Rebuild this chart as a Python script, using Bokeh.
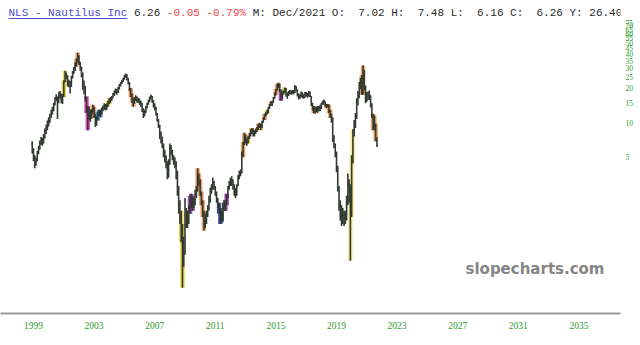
from bokeh.plotting import figure
from bokeh.models import FixedTicker, ColumnDataSource, Range1d
from bokeh.embed import file_html
from bokeh.resources import INLINE
from bokeh.core.properties import value

# ---------------- data (monthly OHLC, Mar 1999 .. Dec 2021) ----------------
first_month = "1999-03"
first_open = 6.5

closes = [
    5.6, 4.9, 4.3, 4.7, 5.4, 6.0, 6.6, 7.1, 6.8, 7.6,                     # 1999 Mar-Dec
    8.5, 9.1, 9.8, 10.4, 11.6, 12.4, 13.1, 14.6, 16.0, 16.6, 15.1, 18.0,  # 2000
    17.4, 15.6, 17.0, 23.0, 26.5, 25.2, 21.6, 22.6, 21.0, 25.0, 27.6, 30.2,  # 2001
    33.0, 35.5, 38.0, 33.5, 30.5, 27.0, 22.0, 20.5, 16.2, 13.4, 11.6, 12.4,  # 2002
    11.2, 12.6, 13.4, 11.6, 10.0, 10.8, 11.9, 12.4, 12.0, 13.0, 13.5, 14.1,  # 2003
    13.6, 14.0, 15.0, 15.5, 16.0, 16.6, 17.6, 18.4, 19.2, 18.6, 20.0, 21.2,  # 2004
    22.2, 23.0, 24.2, 25.4, 26.0, 24.0, 22.4, 19.6, 17.6, 15.8, 15.0, 16.2,  # 2005
    16.6, 15.6, 16.0, 15.0, 14.6, 13.0, 11.8, 12.6, 13.6, 14.6, 15.6, 16.6,  # 2006
    17.0, 15.6, 14.4, 13.4, 12.0, 10.6, 9.4, 8.0, 7.0, 6.4, 5.4, 5.0,        # 2007
    4.3, 3.5, 4.4, 6.0, 5.6, 5.0, 4.7, 4.3, 3.6, 2.6, 1.9, 1.5,              # 2008
    1.1, 0.62, 0.75, 1.3, 1.5, 1.4, 1.7, 2.0, 2.1, 1.9, 2.0, 2.3,            # 2009
    2.6, 3.4, 3.0, 2.4, 2.0, 1.6, 1.3, 1.4, 1.6, 1.8, 2.1, 2.5,              # 2010
    2.8, 3.0, 2.7, 2.4, 2.1, 1.9, 1.7, 1.5, 1.45, 1.8, 1.9, 1.9,             # 2011
    2.3, 2.7, 2.9, 3.0, 3.1, 2.8, 2.5, 2.4, 2.8, 3.3, 3.6, 3.7,              # 2012
    5.2, 6.5, 7.6, 7.0, 6.8, 7.4, 7.9, 8.3, 8.6, 8.0, 8.2, 8.5,              # 2013
    8.9, 9.4, 9.6, 9.2, 10.2, 10.9, 11.6, 12.0, 12.5, 13.4, 14.2, 15.0,      # 2014
    15.2, 16.4, 17.6, 19.4, 21.0, 21.6, 19.0, 17.2, 18.0, 18.6, 19.8, 17.8,  # 2015
    17.8, 18.6, 18.8, 18.2, 18.9, 18.6, 20.2, 19.4, 17.6, 16.8, 17.2, 18.4,  # 2016
    17.0, 16.8, 18.2, 17.6, 17.2, 18.6, 17.0, 14.6, 13.4, 13.2, 12.9, 13.4,  # 2017
    13.0, 13.6, 13.5, 14.6, 15.2, 15.4, 14.2, 14.0, 14.2, 12.6, 11.6, 10.9,  # 2018
    7.2, 6.4, 5.4, 4.0, 2.7, 1.85, 1.75, 1.35, 1.55, 1.45, 1.5, 2.0,         # 2019
    2.9, 2.6, 1.6, 4.6, 8.4, 9.4, 11.0, 15.8, 17.2, 21.0, 22.6, 18.2,        # 2020
    24.0, 20.0, 15.6, 17.2, 17.4, 16.9, 14.4, 11.6, 9.3, 9.4, 7.02, 6.26,    # 2021
]

highs = [
    6.9, 6.0, 5.2, 5.0, 5.7, 6.3, 7.0, 7.5, 7.4, 8.0,
    8.9, 9.6, 10.5, 11.2, 12.0, 13.0, 13.8, 15.0, 16.8, 17.8, 17.0, 18.6,
    19.0, 18.0, 17.8, 23.6, 28.6, 27.5, 26.0, 23.8, 23.2, 25.8, 28.4, 31.0,
    33.8, 36.5, 41.0, 39.0, 34.0, 31.0, 27.5, 23.5, 21.0, 17.0, 14.0, 13.8,
    13.0, 13.2, 14.4, 13.8, 12.0, 11.4, 12.5, 13.0, 13.0, 13.6, 14.2, 14.8,
    14.6, 14.8, 15.6, 16.4, 16.8, 17.2, 18.2, 19.2, 20.0, 19.8, 20.6, 21.8,
    22.8, 23.8, 24.8, 26.2, 27.0, 26.6, 24.6, 22.8, 20.2, 18.0, 16.4, 16.8,
    17.4, 17.0, 16.6, 16.2, 15.6, 15.0, 13.4, 13.0, 14.0, 15.0, 16.0, 17.0,
    17.6, 17.2, 15.8, 14.8, 13.8, 12.2, 10.8, 9.6, 8.4, 7.6, 6.6, 5.8,
    5.2, 4.6, 4.8, 6.6, 6.4, 5.8, 5.2, 5.0, 4.6, 3.8, 2.8, 2.1,
    1.7, 1.3, 1.0, 2.2, 1.8, 1.7, 1.9, 2.3, 2.4, 2.3, 2.2, 2.6,
    2.8, 4.0, 3.6, 3.2, 2.5, 2.1, 1.7, 1.6, 1.7, 1.9, 2.3, 2.7,
    2.9, 3.3, 3.1, 2.8, 2.5, 2.2, 2.0, 1.8, 1.7, 2.0, 2.1, 2.1,
    2.4, 2.8, 3.1, 3.3, 3.4, 3.2, 2.9, 2.7, 2.9, 3.5, 3.8, 3.9,
    5.6, 6.8, 8.2, 7.9, 7.4, 7.7, 8.2, 8.8, 9.0, 8.9, 8.6, 8.9,
    9.2, 9.8, 10.0, 9.8, 10.4, 11.2, 12.0, 12.4, 13.0, 13.8, 14.6, 15.4,
    15.6, 16.8, 18.4, 19.8, 21.8, 22.4, 22.0, 19.6, 18.8, 19.2, 20.4, 20.2,
    18.4, 19.0, 19.4, 19.2, 19.4, 19.4, 21.4, 21.0, 19.6, 18.0, 17.8, 18.8,
    18.4, 17.8, 18.6, 18.6, 18.2, 19.0, 18.8, 17.2, 15.0, 14.0, 13.8, 13.8,
    14.0, 14.0, 14.4, 15.0, 15.6, 16.0, 15.4, 14.6, 14.6, 14.4, 13.0, 12.0,
    11.2, 7.8, 6.6, 5.6, 4.2, 2.8, 2.1, 1.9, 1.8, 1.7, 1.7, 2.3,
    3.6, 3.2, 2.9, 5.2, 8.8, 10.6, 12.2, 16.4, 19.0, 22.8, 24.6, 26.0,
    31.7, 29.0, 21.2, 18.6, 18.8, 19.2, 17.4, 14.8, 12.0, 11.6, 9.8, 7.48,
]

lows = [
    5.4, 4.6, 4.0, 4.2, 4.6, 5.3, 5.8, 6.4, 6.3, 6.6,
    7.3, 8.0, 8.6, 9.3, 10.0, 11.0, 11.8, 12.6, 14.2, 15.4, 10.8, 14.8,
    16.2, 14.8, 14.6, 16.8, 22.6, 24.0, 20.8, 20.5, 18.0, 20.6, 24.4, 26.8,
    28.4, 31.0, 33.5, 32.0, 28.5, 25.0, 19.5, 17.8, 15.4, 12.2, 8.6, 10.6,
    10.2, 10.8, 12.0, 11.0, 9.2, 9.4, 10.5, 11.4, 11.2, 11.8, 12.6, 13.0,
    12.8, 13.0, 13.8, 14.6, 15.0, 15.6, 16.4, 17.2, 18.0, 17.6, 18.2, 19.6,
    20.8, 21.8, 22.8, 23.8, 24.8, 23.4, 21.6, 19.0, 16.8, 15.0, 13.8, 14.6,
    15.6, 15.0, 15.0, 14.4, 13.8, 12.4, 11.0, 11.4, 12.2, 13.4, 14.4, 15.2,
    16.0, 15.0, 13.6, 12.8, 11.6, 10.2, 9.0, 7.2, 6.6, 6.0, 5.0, 4.5,
    4.0, 3.2, 3.3, 4.3, 5.2, 4.7, 4.3, 4.0, 3.2, 2.3, 1.6, 1.3,
    0.9, 0.36, 0.55, 0.7, 1.2, 1.2, 1.3, 1.6, 1.8, 1.7, 1.8, 1.9,
    2.2, 2.5, 2.8, 2.3, 1.9, 1.5, 1.14, 1.2, 1.3, 1.5, 1.7, 2.0,
    2.4, 2.6, 2.6, 2.3, 2.0, 1.8, 1.6, 1.3, 1.35, 1.4, 1.7, 1.7,
    1.9, 2.2, 2.6, 2.8, 2.8, 2.6, 2.3, 2.2, 2.3, 2.8, 3.2, 3.4,
    3.6, 5.0, 6.4, 6.6, 6.3, 6.6, 7.2, 7.6, 8.0, 7.6, 7.6, 8.0,
    8.3, 8.6, 9.0, 8.6, 9.0, 10.0, 10.6, 11.4, 11.8, 12.2, 13.2, 14.0,
    14.0, 15.0, 16.2, 17.4, 19.2, 20.2, 18.6, 15.6, 16.4, 17.6, 18.4, 17.0,
    16.2, 17.2, 17.8, 17.6, 17.8, 17.8, 18.2, 18.8, 17.0, 16.0, 16.2, 16.8,
    16.4, 16.2, 16.6, 17.0, 16.6, 17.0, 16.8, 14.0, 12.8, 12.2, 12.0, 12.4,
    12.2, 12.6, 12.6, 13.2, 14.4, 14.4, 13.8, 13.4, 13.6, 12.2, 11.0, 10.0,
    6.8, 6.0, 5.0, 3.7, 2.5, 1.7, 1.4, 1.25, 1.3, 1.25, 1.3, 1.4,
    1.9, 2.0, 0.62, 1.5, 4.4, 7.6, 9.0, 10.8, 14.2, 16.4, 19.8, 17.6,
    17.6, 19.2, 14.8, 15.2, 15.8, 15.8, 13.6, 11.0, 8.6, 8.6, 6.9, 6.16,
]

# highlighted (coloured) bars
hl_months = ["2001-04", "2001-05", "2002-02", "2002-03", "2002-10", "2002-11",
             "2003-03", "2003-04", "2003-07", "2003-08", "2003-09", "2004-03", "2004-04",
             "2005-09", "2005-10", "2005-11", "2009-01", "2009-02",
             "2009-08", "2009-09", "2009-10",
             "2010-02", "2010-03", "2010-04", "2010-05", "2010-06", "2010-07",
             "2011-07", "2011-08", "2011-09", "2011-12", "2012-01",
             "2013-02", "2013-03", "2013-04", "2013-06", "2013-09",
             "2014-02", "2014-04", "2014-07", "2014-09", "2014-12",
             "2015-04", "2015-05", "2015-06", "2015-08", "2015-10", "2015-11",
             "2017-10", "2017-11", "2017-12",
             "2018-08", "2018-09", "2018-10", "2018-11",
             "2020-03", "2020-04", "2020-05", "2020-12", "2021-01",
             "2021-09", "2021-10", "2021-11"]
hl_kinds = ["yellow", "yellow", "orange", "orange", "pink", "pink",
            "orange", "orange", "blue", "blue", "blue", "yellow", "yellow",
            "orange", "orange", "orange", "yellow", "yellow",
            "purple", "purple", "purple",
            "orange", "orange", "orange", "orange", "orange", "orange",
            "navy", "navy", "navy", "purple", "purple",
            "orange", "orange", "orange", "yellow", "orange",
            "orange", "yellow", "orange", "yellow", "orange",
            "orange", "orange", "orange", "purple", "yellow", "yellow",
            "orange", "orange", "orange",
            "orange", "orange", "orange", "orange",
            "paleyellow", "paleyellow", "paleyellow", "orange", "orange",
            "orange", "orange", "orange"]
kind_colors = {"yellow": "#e8d23a", "paleyellow": "#fbe98a", "orange": "#f09a5a",
               "pink": "#e23cc0", "blue": "#3f8ad6", "purple": "#9b35b5", "navy": "#3444a8"}

x_labels = ["1999", "2003", "2007", "2011", "2015", "2019", "2023", "2027", "2031", "2035"]
y_labels = ["5", "10", "15", "20", "25", "30", "35", "40", "45", "50", "55", "60", "65", "70", "75"]

# header pieces: (text, starting character column, colour)
header_texts = ["NLS - Nautilus Inc", "6.26", "-0.05 -0.79%",
                "M: Dec/2021 O:  7.02 H:  7.48 L:  6.16 C:  6.26 Y: 26.40"]
header_cols = [0, 19, 24, 37]
header_colors = ["#4b4bd0", "#2a2a2a", "#f04848", "#2a2a2a"]
watermark = "slopecharts.com"

assert len(closes) == len(highs) == len(lows) == 274
assert len(hl_months) == len(hl_kinds)

# ---------------- geometry ----------------
W, H = 640, 345
FRAME_R, FRAME_B = 620, 313
PX_PER_MONTH = 1.2625
X_REF_PX, X_REF_IDX = 33.0, 3          # where the "1999" label sits
PX_PER_DECADE, Y10_PX = 114.3, 122.3  # log scale calibration


def idx_at(px):
    return X_REF_IDX + (px - X_REF_PX) / PX_PER_MONTH


def price_at(py):
    return 10 ** (1 + (Y10_PX - py) / PX_PER_DECADE)


def month_index(s):
    y, m = s.split("-")
    return (int(y) - 1999) * 12 + int(m) - 1


start = month_index(first_month)
xs = [start + k for k in range(len(closes))]
opens = [first_open] + closes[:-1]

src = ColumnDataSource(dict(x=xs, o=opens, h=highs, l=lows, c=closes,
                            xl=[x - 0.8 for x in xs], xr=[x + 0.8 for x in xs]))

hx = [month_index(m) for m in hl_months]
hsrc = ColumnDataSource(dict(x=hx,
                             h=[highs[i - start] for i in hx],
                             l=[lows[i - start] for i in hx],
                             color=[kind_colors[k] for k in hl_kinds]))

p = figure(width=W, height=H, output_backend="svg", toolbar_location=None,
           y_axis_type="log", y_axis_location="right",
           x_range=Range1d(idx_at(0), idx_at(FRAME_R)),
           y_range=Range1d(price_at(FRAME_B), price_at(0)),
           min_border_left=0, min_border_top=0,
           min_border_right=W - FRAME_R, min_border_bottom=H - FRAME_B)
p.outline_line_color = None
p.xgrid.visible = False
p.ygrid.visible = False
p.background_fill_color = "white"
p.border_fill_color = "white"

# highlight halos then bars
p.segment("x", "l", "x", "h", source=hsrc, line_color="color", line_width=4.5, line_alpha=0.9)
BAR = "#323b31"
p.segment("x", "l", "x", "h", source=src, line_color=BAR, line_width=1.6)
p.segment("xl", "o", "x", "o", source=src, line_color=BAR, line_width=1.2)
p.segment("x", "c", "xr", "c", source=src, line_color=BAR, line_width=1.2)

# axes
GREEN = "#2f9a2f"
xa = p.xaxis[0]
xticks = [(int(l) - 1999) * 12 + X_REF_IDX for l in x_labels]
xa.ticker = FixedTicker(ticks=xticks)
xa.major_label_overrides = {t: l for t, l in zip(xticks, x_labels)}
xa.axis_line_color = "#9a9a9a"
xa.axis_line_width = 2
xa.major_tick_line_color = None
xa.minor_tick_line_color = None
xa.major_tick_out = 0
xa.major_label_standoff = 8
xa.major_label_text_color = GREEN
xa.major_label_text_font = "Liberation Serif"
xa.major_label_text_font_size = "9.5px"

ya = p.yaxis[0]
yticks = [int(v) for v in y_labels]
ya.ticker = FixedTicker(ticks=yticks)
ya.major_label_overrides = {t: l for t, l in zip(yticks, y_labels)}
ya.axis_line_color = None
ya.major_tick_line_color = None
ya.minor_tick_line_color = None
ya.major_tick_out = 0
ya.major_label_standoff = 5
ya.major_label_text_color = GREEN
ya.major_label_text_font = "Liberation Serif"
ya.major_label_text_font_size = "7.5px"

# header line (monospace; runs of spaces kept with no-break spaces)
CHAR_W = 6.6
HDR_X0, HDR_Y = 8, 12
NBSP = "\u00a0"
hdr_x = [idx_at(HDR_X0 + c * CHAR_W) for c in header_cols[:-1]]
p.text(x=hdr_x, y=[price_at(HDR_Y)] * len(hdr_x),
       text=[t.replace(" ", NBSP) for t in header_texts[:-1]], text_color=header_colors[:-1],
       text_font=value("Liberation Mono"), text_font_size="11px",
       text_baseline="middle", text_align="left")
# last run is anchored at its right end (column 93)
hdr_end = header_cols[-1] + len(header_texts[-1])
p.text(x=[idx_at(HDR_X0 + hdr_end * CHAR_W)], y=[price_at(HDR_Y)],
       text=[header_texts[-1].replace(" ", NBSP)], text_color=header_colors[-1],
       text_font=value("Liberation Mono"), text_font_size="11px",
       text_baseline="middle", text_align="right")
# underline of the link
p.segment(x0=[idx_at(HDR_X0)], x1=[idx_at(HDR_X0 + len(header_texts[0]) * CHAR_W)],
          y0=[price_at(18)], y1=[price_at(18)], line_color="#4b4bd0", line_width=1)

# watermark
p.text(x=[idx_at(465)], y=[price_at(268)], text=[watermark], text_color="#858585",
       text_font=value("DejaVu Sans"), text_font_style="bold", text_font_size="15px",
       text_baseline="middle", text_align="left")

open("out.html", "w").write(file_html(p, INLINE))
